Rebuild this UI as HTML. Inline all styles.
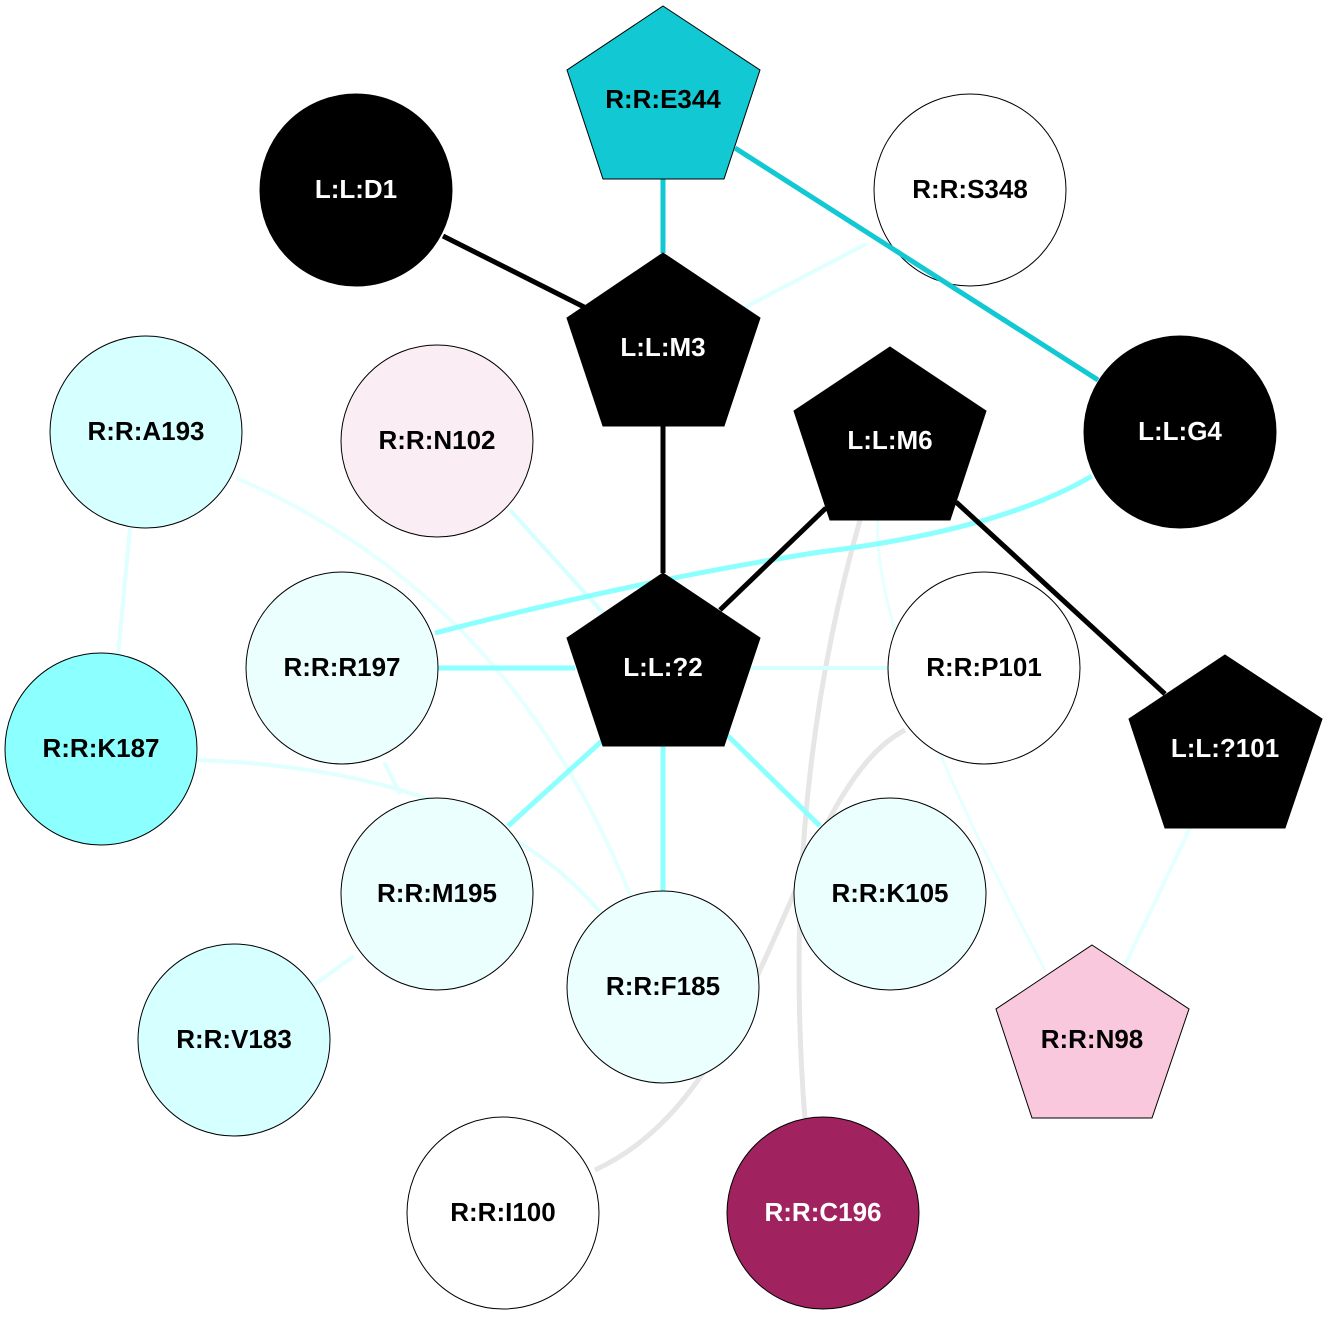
<!DOCTYPE html>
<html><head><meta charset="utf-8"><style>
html,body{margin:0;padding:0;background:#fff}
svg text{font-family:"Liberation Sans",Arial,sans-serif;font-weight:bold;font-size:26px;text-anchor:middle;dominant-baseline:central}
</style></head><body>
<svg width="1327" height="1316" viewBox="0 0 1327 1316" xmlns="http://www.w3.org/2000/svg">
<g fill="none" stroke-linecap="butt">
<path d="M860,520 Q780,800 805,1120" stroke="#e6e6e6" stroke-width="5"/>
<path d="M905,730 C790,790 770,1090 595,1170" stroke="#e6e6e6" stroke-width="5"/>
<path d="M878,520 Q870,640 1045,970" stroke="#e6ffff" stroke-width="3"/>
<line x1="1190" y1="828" x2="1125" y2="965" stroke="#e6ffff" stroke-width="4"/>
<line x1="130" y1="528" x2="118" y2="655" stroke="#e0ffff" stroke-width="4"/>
<path d="M236,478 Q520,600 640,920" stroke="#e6ffff" stroke-width="4"/>
<path d="M197,760 Q480,770 600,912" stroke="#e0ffff" stroke-width="4"/>
<line x1="384" y1="762" x2="400" y2="794" stroke="#e0ffff" stroke-width="4"/>
<line x1="354" y1="956" x2="314" y2="985" stroke="#e0ffff" stroke-width="4"/>
<line x1="510" y1="510" x2="605" y2="615" stroke="#d6ffff" stroke-width="4"/>
<line x1="866" y1="244" x2="740" y2="310" stroke="#e0ffff" stroke-width="4"/>
<line x1="750" y1="668" x2="888" y2="668" stroke="#d6ffff" stroke-width="4"/>
<line x1="438" y1="668" x2="575" y2="668" stroke="#8cffff" stroke-width="5"/>
<line x1="603" y1="740" x2="508" y2="826" stroke="#8cffff" stroke-width="5"/>
<line x1="663" y1="746" x2="663" y2="892" stroke="#8cffff" stroke-width="5"/>
<line x1="724" y1="732" x2="820" y2="826" stroke="#8cffff" stroke-width="5"/>
<path d="M1092,476 Q1000,530 820,552 Q640,580 435,633" stroke="#8cffff" stroke-width="5"/>
<line x1="663" y1="179" x2="663" y2="253" stroke="#12c8d2" stroke-width="5"/>
<line x1="443" y1="236" x2="590" y2="310" stroke="#000" stroke-width="5"/>
<line x1="663" y1="426" x2="663" y2="573" stroke="#000" stroke-width="5"/>
<line x1="826" y1="508" x2="720" y2="610" stroke="#000" stroke-width="5"/>
<line x1="956" y1="502" x2="1165" y2="694" stroke="#000" stroke-width="5"/>
</g>
<g stroke="#000" stroke-width="1">
<polygon points="663,6 760,70 724,179 603,179 567,70" fill="#12c8d2"/>
<circle cx="356" cy="190" r="96" fill="#000"/>
<circle cx="970" cy="190" r="96" fill="#fff"/>
<polygon points="663,253 760,318 724,426 603,426 567,318" fill="#000"/>
<circle cx="146" cy="432" r="96" fill="#d6ffff"/>
<circle cx="437" cy="441" r="96" fill="#faeef4"/>
<polygon points="890,347 986,411 950,520 830,520 794,411" fill="#000"/>
<circle cx="1180" cy="432" r="96" fill="#000"/>
<circle cx="342" cy="668" r="96" fill="#ebffff"/>
<polygon points="663,573 760,638 724,746 603,746 567,638" fill="#000"/>
<circle cx="984" cy="668" r="96" fill="#fff"/>
<circle cx="101" cy="749" r="96" fill="#8cffff"/>
<polygon points="1225,655 1322,719 1285,828 1165,828 1129,719" fill="#000"/>
<circle cx="437" cy="894" r="96" fill="#ebffff"/>
<circle cx="890" cy="894" r="96" fill="#ebffff"/>
<circle cx="663" cy="987" r="96" fill="#ebffff"/>
<circle cx="234" cy="1040" r="96" fill="#d6ffff"/>
<polygon points="1092,945 1189,1009 1152,1118 1032,1118 996,1009" fill="#f9c8dc"/>
<circle cx="503" cy="1213" r="96" fill="#fff"/>
<circle cx="823" cy="1213" r="96" fill="#a0235f"/>
</g>
<line x1="735" y1="148" x2="1098" y2="380" stroke="#12c8d2" stroke-width="5"/>
<text x="663" y="99">R:R:E344</text>
<text x="356" y="189" fill="#fff">L:L:D1</text>
<text x="970" y="189">R:R:S348</text>
<text x="663" y="347" fill="#fff">L:L:M3</text>
<text x="146" y="431">R:R:A193</text>
<text x="437" y="440">R:R:N102</text>
<text x="890" y="440" fill="#fff">L:L:M6</text>
<text x="1180" y="431" fill="#fff">L:L:G4</text>
<text x="342" y="667">R:R:R197</text>
<text x="663" y="667" fill="#fff">L:L:?2</text>
<text x="984" y="667">R:R:P101</text>
<text x="101" y="748">R:R:K187</text>
<text x="1225" y="748" fill="#fff">L:L:?101</text>
<text x="437" y="893">R:R:M195</text>
<text x="890" y="893">R:R:K105</text>
<text x="663" y="986">R:R:F185</text>
<text x="234" y="1039">R:R:V183</text>
<text x="1092" y="1039">R:R:N98</text>
<text x="503" y="1212">R:R:I100</text>
<text x="823" y="1212" fill="#fff">R:R:C196</text>
</svg>
</body></html>
